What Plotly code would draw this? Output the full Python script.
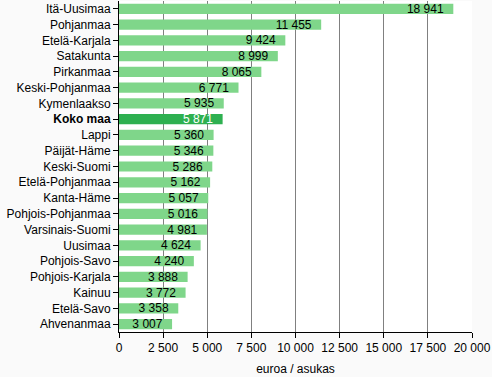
import plotly.graph_objects as go

regions = ["Itä-Uusimaa", "Pohjanmaa", "Etelä-Karjala", "Satakunta", "Pirkanmaa",
           "Keski-Pohjanmaa", "Kymenlaakso", "Koko maa", "Lappi", "Päijät-Häme",
           "Keski-Suomi", "Etelä-Pohjanmaa", "Kanta-Häme", "Pohjois-Pohjanmaa",
           "Varsinais-Suomi", "Uusimaa", "Pohjois-Savo", "Pohjois-Karjala",
           "Kainuu", "Etelä-Savo", "Ahvenanmaa"]
values = [18941, 11455, 9424, 8999, 8065, 6771, 5935, 5871, 5360, 5346, 5286,
          5162, 5057, 5016, 4981, 4624, 4240, 3888, 3772, 3358, 3007]
x_ticks = [0, 2500, 5000, 7500, 10000, 12500, 15000, 17500, 20000]

highlight = "Koko maa"
colors = ["#2eb050" if r == highlight else "#7fd68a" for r in regions]
txt_colors = ["white" if r == highlight else "black" for r in regions]
ticktext = [f"<b>{r}</b>" if r == highlight else r for r in regions]

fig = go.Figure(go.Bar(
    x=values, y=regions, orientation="h",
    marker=dict(color=colors, line=dict(width=0)),
    width=0.65,
    text=values, texttemplate="%{x:,}  ",
    textposition="inside", insidetextanchor="end",
    constraintext="none",
    textfont=dict(color=txt_colors, size=12, family="Liberation Sans Narrow, Arial Narrow, Liberation Sans, Arial"),
    cliponaxis=False,
))

fig.update_layout(
    width=492, height=377,
    margin=dict(l=119, r=20, t=1, b=45, autoexpand=False),
    paper_bgcolor="#fafafa", plot_bgcolor="white",
    separators=", ",
    showlegend=False,
    font=dict(family="Liberation Sans, Arial", size=12, color="black"),
)
fig.update_xaxes(
    range=[0, 20000], tickvals=x_ticks, tickformat=",",
    showgrid=True, gridcolor="#808080", gridwidth=1,
    showline=True, linecolor="black", linewidth=1,
    ticks="outside", ticklen=5, tickcolor="black",
    zeroline=False, automargin=False,
    title=dict(text="euroa / asukas", font=dict(size=12), standoff=10),
)
fig.update_yaxes(
    categoryorder="array", categoryarray=regions, autorange="reversed",
    tickvals=regions, ticktext=ticktext,
    showline=True, linecolor="black", linewidth=1,
    ticks="outside", ticklen=5, tickcolor="black",
    showgrid=False, automargin=False,
)

fig.write_html("out.html", config={"displayModeBar": False},
               post_script="document.body.style.margin='0';")
